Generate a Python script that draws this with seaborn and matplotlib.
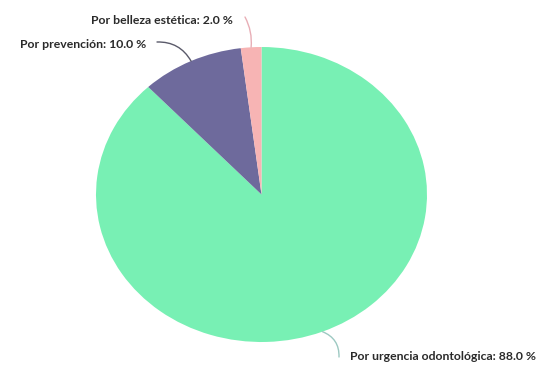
import numpy as np
import matplotlib
matplotlib.use("Agg")
import matplotlib.pyplot as plt
import seaborn as sns

categories = ["Por urgencia odontológica", "Por prevención", "Por belleza estética"]
values = [88.0, 10.0, 2.0]
colors = ["#78F0B4", "#6E6A9C", "#F7B4B4"]
line_colors = ["#9DC9C2", "#5A5A6A", "#E8AEB6"]

sns.set_theme(style="white")
plt.rcParams["font.family"] = ["Lato", "DejaVu Sans"]

W, H = 549, 365
fig = plt.figure(figsize=(W / 100, H / 100), dpi=100)
fig.patch.set_facecolor("white")

# pie bounding box in pixels
px_l, px_r, py_t, py_b = 96, 427, 47, 342
ax = fig.add_axes([px_l / W, (H - py_b) / H, (px_r - px_l) / W, (py_b - py_t) / H])

wedges, _ = ax.pie(values, colors=colors, startangle=90, counterclock=False,
                   radius=1.0, wedgeprops=dict(linewidth=0))
ax.set_aspect("auto")
ax.set_xlim(-1, 1)
ax.set_ylim(-1, 1)
ax.axis("off")

def fig_px(x, y):
    return (x / W, (H - y) / H)

# label placement: (text pos px, ha, line start px, rad)
label_specs = [
    ((350, 357), "left", (339, 357), 0.35),
    ((146, 44), "right", (157, 42), -0.3),
    ((233, 20), "right", (245, 17), -0.15),
]

for w, cat, val, lc, spec in zip(wedges, categories, values, line_colors, label_specs):
    mid = np.deg2rad((w.theta1 + w.theta2) / 2)
    anchor = (np.cos(mid), np.sin(mid))
    (tx, ty), ha, (lx, ly), rad = spec
    fig.text(*fig_px(tx, ty), f"{cat}: {val:.1f} %", ha=ha, va="center",
             fontsize=8.8, fontweight="bold", color="#2a2a2a")
    ax.annotate("", xy=anchor, xycoords="data",
                xytext=fig_px(lx, ly), textcoords="figure fraction",
                arrowprops=dict(arrowstyle="-", color=lc, lw=1.0,
                                shrinkA=0, shrinkB=0,
                                connectionstyle=f"arc3,rad={rad}"),
                annotation_clip=False)

fig.savefig("out.png", dpi=100, facecolor="white")
